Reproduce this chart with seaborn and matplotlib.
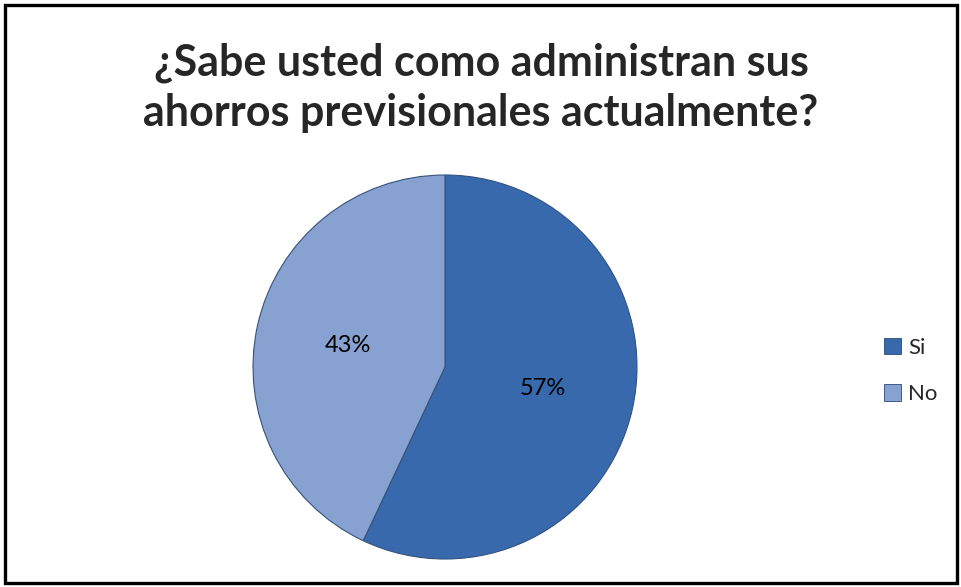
import matplotlib
matplotlib.use("Agg")
import matplotlib.pyplot as plt
import seaborn as sns
from matplotlib.patches import Rectangle, Patch

labels = ["Si", "No"]
values = [57, 43]
title = "¿Sabe usted como administran sus\nahorros previsionales actualmente?"
colors = ["#3769ac", "#87a2d0"]

sns.set_theme(style="white")
plt.rcParams['font.family'] = ['Lato', 'DejaVu Sans']

W, H = 962, 587
fig = plt.figure(figsize=(W / 100, H / 100), dpi=100)
fig.patch.set_facecolor("white")

cx, cy, r = 445, 367, 192
ax = fig.add_axes([(cx - r) / W, (H - cy - r) / H, 2 * r / W, 2 * r / H])
wedges, texts, autotexts = ax.pie(
    values, colors=colors, startangle=90, counterclock=False,
    autopct=lambda p: f"{p:.0f}%", pctdistance=0.52,
    wedgeprops=dict(edgecolor="#34527e", linewidth=0.8),
    textprops=dict(fontsize=17, color="black"))
ax.set_xlim(-1, 1)
ax.set_ylim(-1, 1)
ax.set_aspect("equal")

fig.text(0.5, 1 - 88 / H, title, ha="center", va="center", fontsize=31,
         fontweight="bold", linespacing=1.3)

handles = [Patch(facecolor=c, edgecolor="#2a4a7a", linewidth=0.6) for c in colors]
fig.legend(handles, labels, loc="center left",
           bbox_to_anchor=(864 / W, 1 - 371 / H), frameon=False, fontsize=16,
           handlelength=0.75, handleheight=0.75, handletextpad=0.35,
           labelspacing=1.2)

fig.add_artist(Rectangle((4.5 / W, 4.5 / H), (W - 9) / W, (H - 9) / H,
                         transform=fig.transFigure, fill=False,
                         edgecolor="black", linewidth=2.4))

fig.savefig("out.png", dpi=100)
